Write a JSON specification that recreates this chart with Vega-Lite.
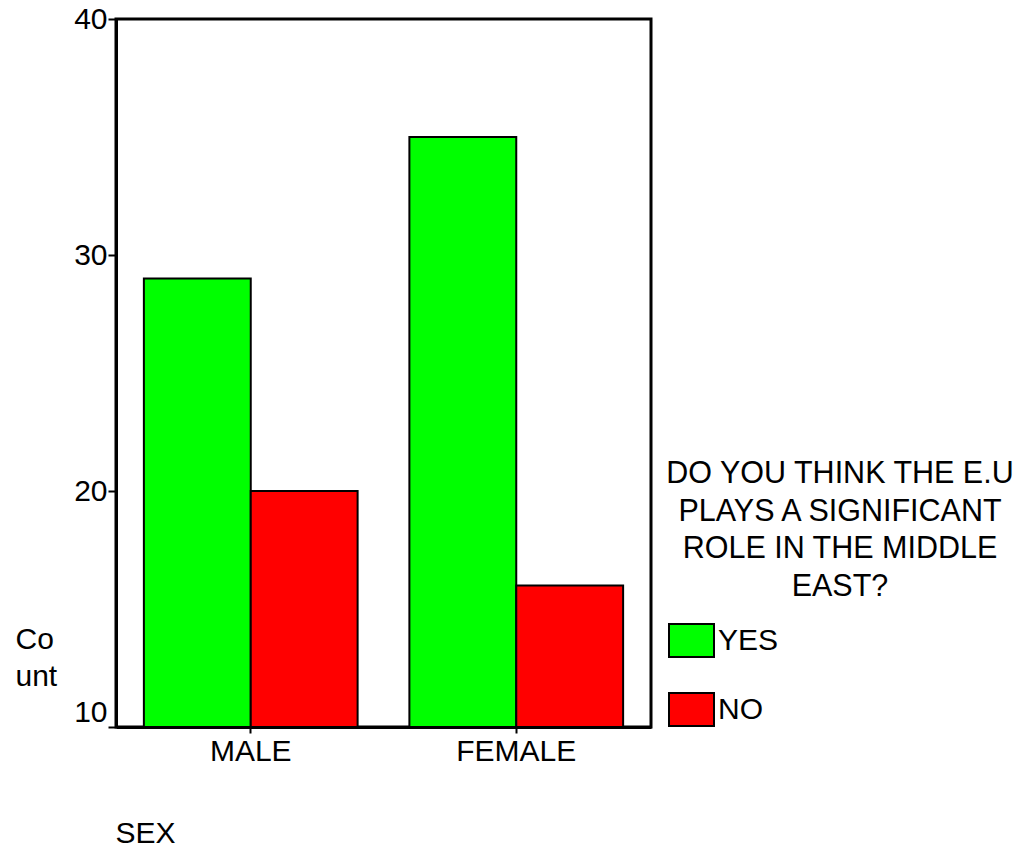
{
  "$schema": "https://vega.github.io/schema/vega-lite/v6.json",
  "autosize": "none",
  "padding": {"left": 116, "top": 19, "right": 383, "bottom": 121},
  "width": 535,
  "height": 708,
  "background": "white",
  "title": {
    "text": ["DO YOU THINK THE E.U", "PLAYS A SIGNIFICANT", "ROLE IN THE MIDDLE", "EAST?"],
    "orient": "top",
    "anchor": "start",
    "frame": "group",
    "align": "center",
    "baseline": "top",
    "dx": 724,
    "dy": 598,
    "offset": 0,
    "font": "Liberation Sans",
    "fontSize": 30.5,
    "fontWeight": "normal",
    "color": "black",
    "lineHeight": 37.5
  },
  "data": {
    "values": [
      {"sex": "MALE", "answer": "YES", "count": 29},
      {"sex": "MALE", "answer": "NO", "count": 20},
      {"sex": "FEMALE", "answer": "YES", "count": 35},
      {"sex": "FEMALE", "answer": "NO", "count": 16}
    ]
  },
  "mark": {"type": "bar", "stroke": "black", "strokeWidth": 2, "strokeJoin": "miter"},
  "encoding": {
    "x": {
      "field": "sex",
      "type": "nominal",
      "sort": ["MALE", "FEMALE"],
      "scale": {"paddingInner": 0.195, "paddingOuter": 0.105},
      "axis": {
        "title": "SEX",
        "titleFont": "Liberation Sans",
        "titleFontSize": 30,
        "titleFontWeight": "normal",
        "titleColor": "black",
        "titleAnchor": "start",
        "titleAlign": "left",
        "titleBaseline": "alphabetic",
        "titleX": -1,
        "titleY": 115,
        "labelAngle": 0,
        "labelFont": "Liberation Sans",
        "labelFontSize": 30,
        "labelColor": "black",
        "labelPadding": 3,
        "tickSize": 6,
        "tickWidth": 2,
        "tickColor": "black",
        "domainColor": "black",
        "domainWidth": 3
      }
    },
    "xOffset": {"field": "answer", "type": "nominal", "sort": ["YES", "NO"], "scale": {"paddingInner": 0, "paddingOuter": 0}},
    "y": {
      "field": "count",
      "type": "quantitative",
      "scale": {"domain": [10, 40], "nice": false, "zero": false},
      "axis": {
        "values": [10, 20, 30, 40],
        "grid": false,
        "title": ["Co", "unt"],
        "titleFont": "Liberation Sans",
        "titleFontSize": 30,
        "titleFontWeight": "normal",
        "titleColor": "black",
        "titleAngle": 0,
        "titleAlign": "left",
        "titleBaseline": "alphabetic",
        "titleLineHeight": 37,
        "titleX": -101,
        "titleY": 629,
        "labelFont": "Liberation Sans",
        "labelFontSize": 30,
        "labelColor": "black",
        "labelPadding": 1,
        "labelBaseline": {"condition": {"test": "datum.value == 10", "value": "bottom"}, "value": "middle"},
        "tickSize": 8,
        "tickWidth": 2,
        "tickColor": "black",
        "domainColor": "black",
        "domainWidth": 3
      }
    },
    "y2": {"datum": 10},
    "color": {
      "field": "answer",
      "type": "nominal",
      "sort": ["YES", "NO"],
      "scale": {"domain": ["YES", "NO"], "range": ["#00ff00", "#ff0000"]},
      "legend": {
        "title": null,
        "orient": "none",
        "legendX": 552,
        "legendY": 598,
        "padding": 0,
        "symbolType": "M-1,-0.73H1V0.73H-1Z",
        "symbolSize": 2025,
        "symbolStrokeColor": "black",
        "symbolStrokeWidth": 2,
        "symbolOpacity": 1,
        "labelFont": "Liberation Sans",
        "labelFontSize": 30,
        "labelColor": "black",
        "labelOffset": 3,
        "rowPadding": 25
      }
    }
  },
  "config": {
    "view": {"stroke": "black", "strokeWidth": 3}
  }
}
